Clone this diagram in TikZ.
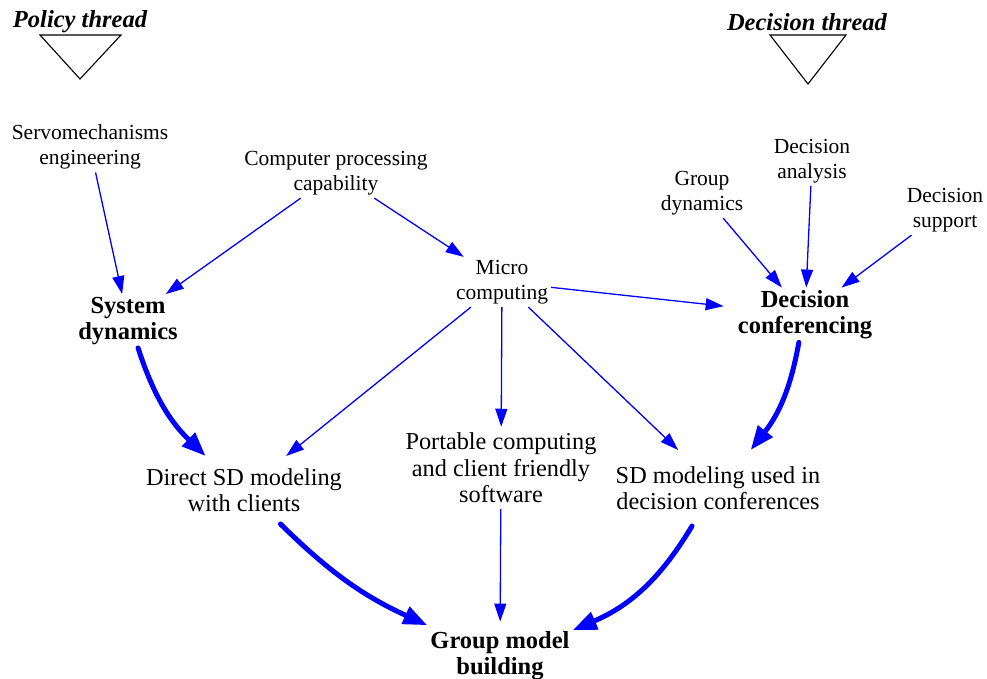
\documentclass[tikz,border=0pt]{standalone}
\usepackage{fontspec}
\setmainfont{Liberation Serif}
\usetikzlibrary{arrows.meta}
\begin{document}
\begin{tikzpicture}[x=1pt,y=1pt,
 lbl/.style={align=center, inner sep=3pt, font=\fontsize{21.5}{25}\selectfont},
 big/.style={align=center, inner sep=3pt, font=\fontsize{24.3}{26.5}\selectfont},
 bld/.style={align=center, inner sep=3pt, font=\fontsize{24.5}{26}\selectfont\bfseries},
 ttl/.style={inner sep=0pt, font=\fontsize{24.5}{28}\selectfont\bfseries\itshape},
 thin/.style={draw=blue, line width=1.3pt, -{Triangle[length=18pt,width=12pt]}},
 thk/.style={draw=blue, line width=5pt, line cap=round, -{Triangle[length=24pt,width=18pt]}},
 tri/.style={draw=black, line width=1.1pt, line join=miter}]
\useasboundingbox (0,0) rectangle (987,679);
\node[ttl] (pt) at (80,657) {Policy thread};
\node[ttl] (dt) at (807,657) {Decision thread};
\draw[tri] (40,644) -- (121,644) -- (80,600) -- cycle;
\draw[tri] (770,644) -- (846,644) -- (808,595) -- cycle;
\node[lbl] (servo) at (90,532) {Servomechanisms\\engineering};
\node[lbl] (comp) at (336,506) {Computer processing\\capability};
\node[lbl] (micro) at (502,397) {Micro\\computing};
\node[bld] (sd) at (128,358) {System\\dynamics};
\node[lbl] (gd) at (702,486) {Group\\dynamics};
\node[lbl] (da) at (812,518) {Decision\\analysis};
\node[lbl] (ds) at (945,469) {Decision\\support};
\node[bld, inner xsep=14pt] (dc) at (805,364) {Decision\\conferencing};
\node[big, inner ysep=12pt] (direct) at (244,189) {Direct SD modeling\\with clients};
\node[big, inner ysep=6pt] (port) at (501,211) {Portable computing\\and client friendly\\software};
\node[big, inner ysep=16pt] (sdu) at (718,191) {SD modeling used in\\decision conferences};
\node[bld, inner ysep=10pt] (gmb) at (500,23) {Group model\\building};
\draw[thin] (servo) -- (sd);
\draw[thin] (comp) -- (sd);
\draw[thin] (comp) -- (micro);
\draw[thin] (micro) -- (dc);
\draw[thin] (gd) -- (dc);
\draw[thin] (da) -- (dc);
\draw[thin] (ds) -- (dc);
\draw[thin] (micro) -- (direct);
\draw[thin] (micro) -- (port);
\draw[thin] (micro) -- (sdu);
\draw[thin] (port) -- (gmb);
\draw[thk] (sd) to[bend right=14] (direct);
\draw[thk] (dc) to[bend left=14] (sdu);
\draw[thk] (direct) to[bend right=10] (gmb);
\draw[thk] (sdu) to[bend left=18] (gmb);
\end{tikzpicture}
\end{document}
